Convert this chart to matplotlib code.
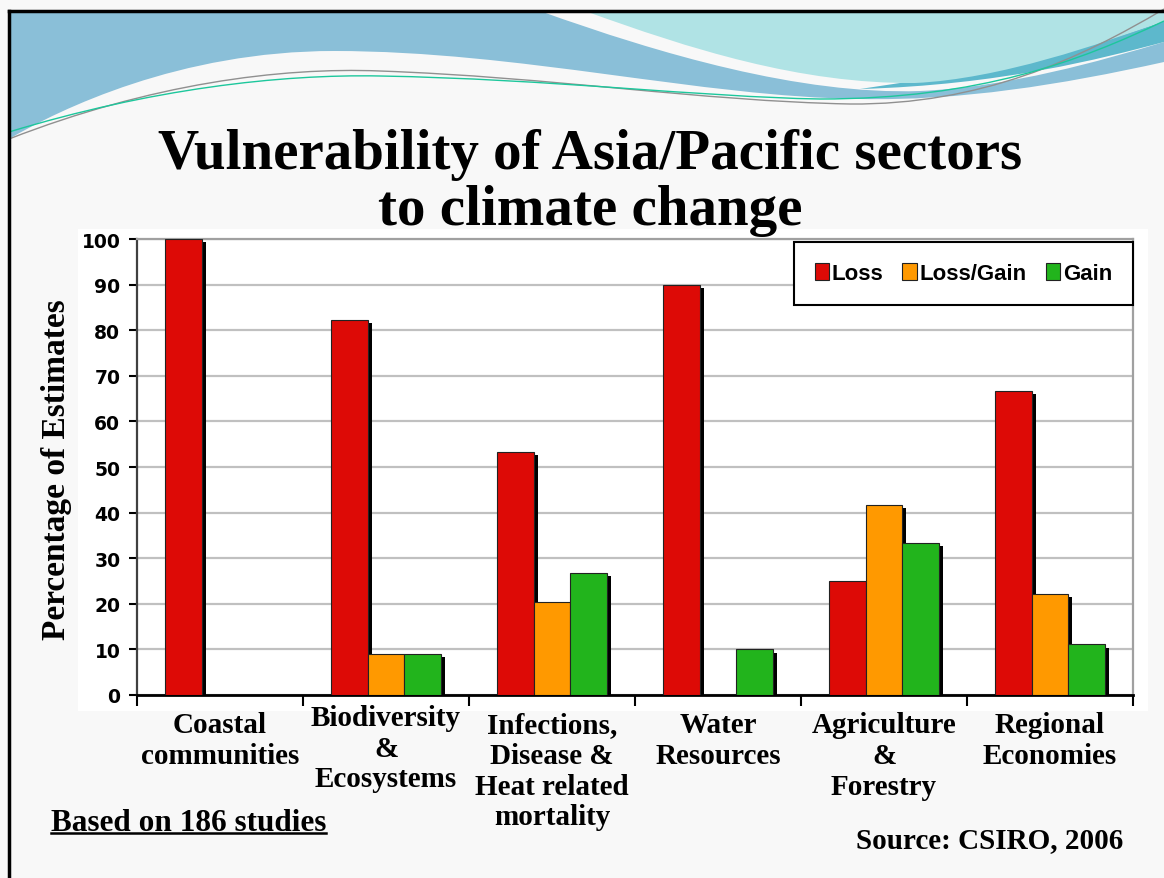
import matplotlib
matplotlib.use("Agg")
import matplotlib.pyplot as plt
import numpy as np
from matplotlib.path import Path
from matplotlib.patches import PathPatch, Rectangle
from matplotlib.lines import Line2D

# data
sectors = ["Coastal\ncommunities", "Biodiversity\n&\nEcosystems",
           "Infections,\nDisease &\nHeat related\nmortality", "Water\nResources",
           "Agriculture\n&\nForestry", "Regional\nEconomies"]
loss = [100, 82.2, 53.3, 90, 25, 66.7]
loss_gain = [0, 9, 20.3, 0, 41.7, 22.2]
gain = [0, 9, 26.7, 10, 33.3, 11.1]
series_names = ["Loss", "Loss/Gain", "Gain"]
colors = ["#DD0A06", "#FF9900", "#22B41C"]
yticks = [0, 10, 20, 30, 40, 50, 60, 70, 80, 90, 100]

W, H = 1164, 879
fig = plt.figure(figsize=(W / 100, H / 100), dpi=100)
fig.patch.set_facecolor("#f8f8f8")

# background layer in pixel coords (y down)
bg = fig.add_axes([0, 0, 1, 1], zorder=0)
bg.set_xlim(0, W)
bg.set_ylim(H, 0)
bg.axis("off")

def bez(points, codes, **kw):
    p = PathPatch(Path(points, codes), **kw)
    bg.add_patch(p)
    return p

M, C, L, Z = Path.MOVETO, Path.CURVE4, Path.LINETO, Path.CLOSEPOLY

# blue wave
bez([(9, 12), (1164, 12), (1164, 63),
     (1060, 86), (960, 102), (860, 100),
     (700, 98), (520, 52), (334, 52),
     (180, 52), (60, 110), (9, 140), (9, 12)],
    [M, L, L, C, C, C, C, C, C, C, C, C, Z], facecolor="#8ABFD8", edgecolor="none")
# white sliver
bez([(540, 12), (660, 55), (800, 96), (920, 92),
     (1010, 88), (1100, 62), (1164, 43), (1164, 12), (540, 12)],
    [M, C, C, C, C, C, C, L, Z], facecolor="#f8f8f8", edgecolor="none")
# teal band
bez([(860, 90), (1000, 86), (1100, 60), (1164, 43),
     (1164, 22), (1100, 45), (1000, 72), (900, 84), (860, 90)],
    [M, C, C, C, L, C, C, C, Z], facecolor="#5DB8CC", edgecolor="none")
# light cyan
bez([(585, 12), (690, 50), (800, 85), (915, 84),
     (1000, 80), (1100, 45), (1164, 22), (1164, 12), (585, 12)],
    [M, C, C, C, C, C, C, L, Z], facecolor="#B0E3E5", edgecolor="none")
# thin swoosh lines
bez([(9, 140), (150, 85), (280, 68), (380, 72),
     (550, 78), (700, 102), (850, 105),
     (980, 106), (1080, 60), (1164, 10)],
    [M, C, C, C, C, C, C, C, C, C], facecolor="none", edgecolor="#909090", lw=1.0)
bez([(9, 133), (150, 90), (280, 75), (380, 77),
     (550, 80), (700, 98), (820, 100),
     (980, 100), (1080, 62), (1164, 22)],
    [M, C, C, C, C, C, C, C, C, C], facecolor="none", edgecolor="#1DC79C", lw=1.0)

# frame
bg.add_line(Line2D([9, 1164], [12, 12], color="black", lw=2.5))
bg.add_line(Line2D([9, 9], [12, 879], color="black", lw=2.5))

# white chart image area
bg.add_patch(Rectangle((78, 230), 1070, 482, facecolor="white", edgecolor="none"))

# title and notes
bg.text(590, 183, "Vulnerability of Asia/Pacific sectors\nto climate change",
        ha="center", va="center", fontsize=41, fontweight="bold",
        family="Liberation Serif", linespacing=1.12)
bg.text(57, 470, "Percentage of Estimates", rotation=90, ha="center", va="center",
        fontsize=24, fontweight="bold", family="Liberation Serif")
note = bg.text(51, 831, "Based on 186 studies", ha="left", va="baseline",
               fontsize=22.5, fontweight="bold", family="Liberation Serif")
bg.text(1123, 848, "Source: CSIRO, 2006", ha="right", va="baseline",
        fontsize=21, fontweight="bold", family="Liberation Serif")

# main chart
ax = fig.add_axes([137 / W, 1 - 696 / H, 996 / W, 456 / H], zorder=1)
ax.set_facecolor("white")
x = np.arange(len(sectors))
w = 0.22
dx, dy = 0.025, 0.7
for i, (vals, col, name) in enumerate(zip([loss, loss_gain, gain], colors, series_names)):
    v = np.array(vals, dtype=float)
    xs = x + (i - 1) * w
    sh = np.clip(v - dy, 0, None)
    ax.bar(xs + dx, sh, w, color="black", zorder=2, linewidth=0)
    ax.bar(xs, v, w, color=col, edgecolor="#222222", linewidth=0.8, zorder=3,
           label=name)

ax.set_xlim(-0.5, len(sectors) - 0.5)
ax.set_ylim(0, 100)
ax.set_yticks(yticks)
ax.set_yticklabels([str(t) for t in yticks], fontsize=13.5, fontweight="bold",
                   family="DejaVu Sans")
ax.yaxis.grid(True, color="#c0c0c0", lw=1.6, zorder=0)
ax.set_axisbelow(True)
ax.tick_params(axis="y", length=6, width=1.5, color="black", pad=6)
ax.set_xticks(np.arange(len(sectors) + 1) - 0.5)
ax.set_xticklabels([])
ax.tick_params(axis="x", length=8, width=1.5, color="black")
for s in ["top", "right"]:
    ax.spines[s].set_color("#a0a0a0")
    ax.spines[s].set_linewidth(1.6)
ax.spines["left"].set_color("#404040")
ax.spines["left"].set_linewidth(1.6)
ax.spines["bottom"].set_color("black")
ax.spines["bottom"].set_linewidth(2)

trans = ax.get_xaxis_transform()
for i, lab in enumerate(sectors):
    yoff = -0.02 if i == 1 else -0.036
    ax.text(i, yoff, lab, transform=trans, ha="center", va="top", fontsize=21,
            fontweight="bold", family="Liberation Serif", linespacing=1.17)

leg = ax.legend(loc="upper right", bbox_to_anchor=(1.0, 0.993), borderaxespad=0,
                ncol=3,
                prop={"family": "Liberation Sans", "weight": "bold", "size": 16},
                handlelength=0.65, handleheight=0.75, handletextpad=0.12,
                columnspacing=0.85, borderpad=0.95, fancybox=False,
                framealpha=1, edgecolor="black")
leg.get_frame().set_linewidth(1.5)

# underline the note
fig.canvas.draw()
bb = note.get_window_extent()
inv = bg.transData.inverted()
(x0, y0), (x1, y1) = inv.transform([(bb.x0, bb.y0), (bb.x1, bb.y0)])
bg.add_line(Line2D([x0, x1], [834, 834], color="black", lw=1.8))

fig.savefig("out.png", dpi=100, facecolor=fig.get_facecolor())
